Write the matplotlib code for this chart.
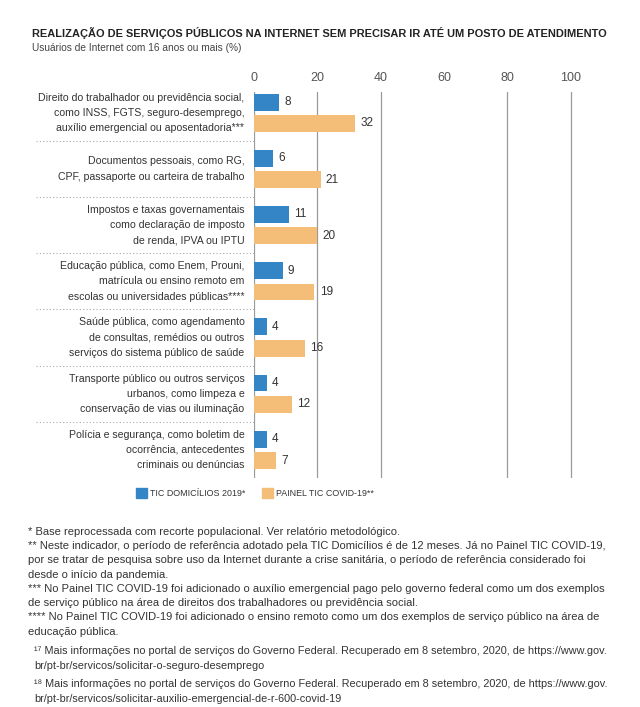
import matplotlib
matplotlib.use('Agg')
import matplotlib.pyplot as plt
import numpy as np

# Data
categories = [
    'Direito do trabalhador ou previdência social,\ncomo INSS, FGTS, seguro-desemprego,\nauxílio emergencial ou aposentadoria***',
    'Documentos pessoais, como RG,\nCPF, passaporte ou carteira de trabalho',
    'Impostos e taxas governamentais\ncomo declaração de imposto\nde renda, IPVA ou IPTU',
    'Educação pública, como Enem, Prouni,\nmatrícula ou ensino remoto em\nescolas ou universidades públicas****',
    'Saúde pública, como agendamento\nde consultas, remédios ou outros\nserviços do sistema público de saúde',
    'Transporte público ou outros serviços\nurbanos, como limpeza e\nconservação de vias ou iluminação',
    'Polícia e segurança, como boletim de\nocorrência, antecedentes\ncriminais ou denúncias',
]
tic_domicilios_2019 = [8, 6, 11, 9, 4, 4, 4]
painel_tic_covid = [32, 21, 20, 19, 16, 12, 7]
series_names = ['TIC DOMICÍLIOS 2019*', 'PAINEL TIC COVID-19**']
tick_values = [0, 20, 40, 60, 80, 100]
grid_values = [0, 20, 40, 80, 100]

title = 'REALIZAÇÃO DE SERVIÇOS PÚBLICOS NA INTERNET SEM PRECISAR IR ATÉ UM POSTO DE ATENDIMENTO'
subtitle = 'Usuários de Internet com 16 anos ou mais (%)'
notes_a = ('* Base reprocessada com recorte populacional. Ver relatório metodológico.\n'
           '** Neste indicador, o período de referência adotado pela TIC Domicílios é de 12 meses. Já no Painel TIC COVID-19,\n'
           'por se tratar de pesquisa sobre uso da Internet durante a crise sanitária, o período de referência considerado foi\n'
           'desde o início da pandemia.\n'
           '*** No Painel TIC COVID-19 foi adicionado o auxílio emergencial pago pelo governo federal como um dos exemplos\n'
           'de serviço público na área de direitos dos trabalhadores ou previdência social.\n'
           '**** No Painel TIC COVID-19 foi adicionado o ensino remoto como um dos exemplos de serviço público na área de\n'
           'educação pública.')
note_17 = ('¹⁷ Mais informações no portal de serviços do Governo Federal. Recuperado em 8 setembro, 2020, de https://www.gov.\n'
           'br/pt-br/servicos/solicitar-o-seguro-desemprego')
note_18 = ('¹⁸ Mais informações no portal de serviços do Governo Federal. Recuperado em 8 setembro, 2020, de https://www.gov.\n'
           'br/pt-br/servicos/solicitar-auxilio-emergencial-de-r-600-covid-19')

BLUE = '#3485c6'
ORANGE = '#f4be79'
TEXT = '#333333'
FONT = ['Liberation Sans', 'DejaVu Sans']
plt.rcParams['font.family'] = FONT

W, H = 640, 707
fig = plt.figure(figsize=(W / 100, H / 100), dpi=100)
ax = fig.add_axes([254 / W, 1 - 478 / H, 380 / W, (478 - 92) / H])

y = np.arange(len(categories))
off, bh = 0.19, 0.30
ax.barh(y - off, tic_domicilios_2019, height=bh, color=BLUE, zorder=3)
ax.barh(y + off, painel_tic_covid, height=bh, color=ORANGE, zorder=3)
for yi, v in zip(y, tic_domicilios_2019):
    ax.text(v + 1.7, yi - off, str(v), va='center', ha='left', fontsize=8.5, color=TEXT)
for yi, v in zip(y, painel_tic_covid):
    ax.text(v + 1.7, yi + off, str(v), va='center', ha='left', fontsize=8.5, color=TEXT)

for g in grid_values:
    ax.axvline(g, color='#9a9a9a', lw=0.9, zorder=1)

ax.set_xlim(0, 120)
ax.set_ylim(len(categories) - 0.5, -0.37)
ax.set_xticks([])
ax.set_yticks([])
for s in ax.spines.values():
    s.set_visible(False)

# tick labels above the plot
for t in tick_values:
    ax.text(t, -0.52, str(t), ha='center', va='bottom', fontsize=9, color='#555555', clip_on=False)

# category labels on the left
for yi, lab in zip(y, categories):
    ax.text(-3, yi, lab, ha='right', va='center', fontsize=7.6, color=TEXT,
            linespacing=1.65, clip_on=False)

# dotted separators between groups
for yi in y[:-1]:
    ax.plot([-69, 0], [yi + 0.5, yi + 0.5], ls=(0, (1, 2)), color='#aaaaaa', lw=0.8, clip_on=False)

fig.text(32 / W, 1 - 33 / H, title, ha='left', va='center', fontsize=7.9,
         fontweight='bold', color='#222222')
fig.text(32 / W, 1 - 48 / H, subtitle, ha='left', va='center', fontsize=7.3, color='#444444')

# legend
handles = [plt.Rectangle((0, 0), 1, 1, color=BLUE), plt.Rectangle((0, 0), 1, 1, color=ORANGE)]
leg = fig.legend(handles, series_names, loc='center', bbox_to_anchor=(255 / W, 1 - 493 / H),
                 ncol=2, frameon=False, handlelength=1.25, handleheight=1.25, handletextpad=0.35,
                 columnspacing=1.8, prop={'size': 6.4})
for t in leg.get_texts():
    t.set_color(TEXT)

fig.text(28 / W, 1 - 527 / H, notes_a, ha='left', va='top', fontsize=8.05, color=TEXT, linespacing=1.53)
fig.text(34 / W, 1 - 646 / H, note_17, ha='left', va='top', fontsize=7.85, color=TEXT, linespacing=1.57)
fig.text(34 / W, 1 - 679 / H, note_18, ha='left', va='top', fontsize=7.85, color=TEXT, linespacing=1.57)

fig.savefig('out.png', dpi=100, facecolor='white')
